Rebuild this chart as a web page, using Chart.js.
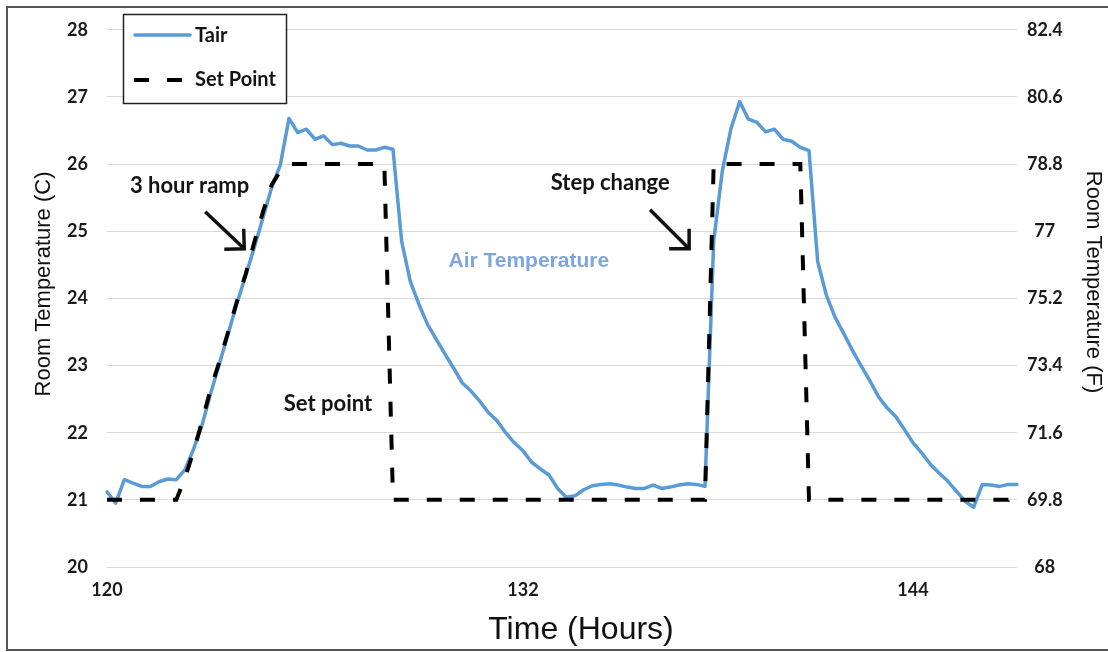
<!DOCTYPE html>
<html>
<head>
<meta charset="utf-8">
<title>Room Temperature</title>
<script src="https://cdn.jsdelivr.net/npm/chart.js@4.4.1/dist/chart.umd.min.js"></script>
<style>
  html, body { margin: 0; padding: 0; background: #fff; }
  #wrap { width: 1108px; height: 652px; }
</style>
</head>
<body>
<div id="wrap"><canvas id="tempChart" width="1108" height="652"></canvas></div>
<script>
// ===== DATA (15 min samples, hour 120 onward) =====
const tair = [
    21.12, 20.95, 21.30, 21.25, 21.20, 21.20, 21.27, 21.31, 21.30, 21.45,
    21.76, 22.13, 22.60, 23.04, 23.48, 23.93, 24.34, 24.76, 25.20, 25.65,
    25.99, 26.68, 26.47, 26.52, 26.37, 26.42, 26.29, 26.31, 26.27, 26.27,
    26.21, 26.21, 26.25, 26.22, 24.85, 24.25, 23.91, 23.61, 23.39, 23.17,
    22.96, 22.74, 22.62, 22.47, 22.30, 22.18, 22.00, 21.85, 21.73, 21.56,
    21.46, 21.37, 21.17, 21.04, 21.06, 21.15, 21.21, 21.23, 21.24, 21.22,
    21.19, 21.17, 21.17, 21.22, 21.17, 21.19, 21.22, 21.24, 21.23, 21.20,
    24.85, 25.90, 26.53, 26.93, 26.67, 26.62, 26.48, 26.52, 26.37, 26.34,
    26.25, 26.20, 24.55, 24.05, 23.72, 23.48, 23.23, 23.00, 22.78, 22.54,
    22.37, 22.24, 22.05, 21.85, 21.70, 21.53, 21.40, 21.28, 21.13, 20.98,
    20.89, 21.23, 21.22, 21.20, 21.23, 21.23
];

const setPoint = [
    21, 21, 21, 21, 21, 21, 21, 21, 21, 21.33,
    21.73, 22.18, 22.67, 23.07, 23.51, 23.96, 24.36, 24.84, 25.29, 25.69,
    25.90, 26, 26, 26, 26, 26, 26, 26, 26, 26,
    26, 26, 26, 21, 21, 21, 21, 21, 21, 21,
    21, 21, 21, 21, 21, 21, 21, 21, 21, 21,
    21, 21, 21, 21, 21, 21, 21, 21, 21, 21,
    21, 21, 21, 21, 21, 21, 21, 21, 21, 21,
    26, 26, 26, 26, 26, 26, 26, 26, 26, 26,
    26, 21, 21, 21, 21, 21, 21, 21, 21, 21,
    21, 21, 21, 21, 21, 21, 21, 21, 21, 21,
    21, 21, 21, 21, 21, 21.2
];

const samples = tair.map((_, i) => i);

// hour labels shown on the time axis, keyed by sample index
const hourLabels = ['120', '132', '144'];
const hourLabelIndex = [0, 48, 93];

const celsiusTicks = [20, 21, 22, 23, 24, 25, 26, 27, 28];
const fahrenheitTicks = [68, 69.8, 71.6, 73.4, 75.2, 77, 78.8, 80.6, 82.4];

// text notes placed in (sample, °C) coordinates
const notes = [
    { text: '3 hour ramp', x: 2.65, y: 25.67, color: '#141414' },
    { text: 'Set point', x: 20.4, y: 22.43, color: '#141414' },
    { text: 'Step change', x: 51.2, y: 25.72, color: '#141414' },
    { text: 'Air Temperature', x: 39.4, y: 24.55, color: '#7ea6dc', font: 'bold 21px "Liberation Sans", Arial, sans-serif' }
];
const arrows = [
    { from: [11.33, 25.29], to: [15.84, 24.74] },
    { from: [62.66, 25.32], to: [67.17, 24.74] }
];

const BLUE = '#5b9bd5';
const DASH = [15, 18];
const NOTE_FONT = 'bold 22px Lato, "Open Sans", sans-serif';
const LEGEND_FONT = 'bold 20px Lato, "Open Sans", sans-serif';
const TICK_FONT = { family: 'Lato, "Open Sans", sans-serif', size: 18, weight: 'bold' };
const AXIS_TITLE_FONT = '22px "Liberation Sans", Arial, sans-serif';
const TIME_TITLE_FONT = '32px "Liberation Sans", Arial, sans-serif';

// ===== FRAME, TITLES, LEGEND, NOTES =====
const decorations = {
    id: 'decorations',
    beforeDraw(chart) {
        const ctx = chart.ctx;
        ctx.save();
        ctx.fillStyle = '#ffffff';
        ctx.fillRect(0, 0, chart.width, chart.height);
        // frame on left, top and bottom
        ctx.strokeStyle = '#555555';
        ctx.lineWidth = 2;
        ctx.beginPath();
        ctx.moveTo(chart.width, 7);
        ctx.lineTo(7, 7);
        ctx.lineTo(7, chart.height - 2);
        ctx.lineTo(chart.width, chart.height - 2);
        ctx.stroke();
        ctx.restore();
    },
    afterDraw(chart) {
        const ctx = chart.ctx;
        const xs = chart.scales.x;
        const ys = chart.scales.y;
        const ds = chart.data.datasets;
        ctx.save();

        // axis titles
        ctx.fillStyle = '#111111';
        ctx.textAlign = 'center';
        ctx.textBaseline = 'middle';
        ctx.font = TIME_TITLE_FONT;
        ctx.fillText('Time (Hours)', 581, 630);
        ctx.font = AXIS_TITLE_FONT;
        ctx.save();
        ctx.translate(44, 284);
        ctx.rotate(-Math.PI / 2);
        ctx.fillText('Room Temperature (C)', 0, 0);
        ctx.restore();
        ctx.save();
        ctx.translate(1093, 282);
        ctx.rotate(Math.PI / 2);
        ctx.fillText('Room Temperature (F)', 0, 0);
        ctx.restore();

        // legend box
        ctx.fillStyle = '#ffffff';
        ctx.fillRect(123, 14, 163, 89);
        ctx.strokeStyle = '#222222';
        ctx.lineWidth = 1.5;
        ctx.strokeRect(123.5, 14.5, 163, 89);

        ctx.font = LEGEND_FONT;
        ctx.textBaseline = 'middle';
        ctx.textAlign = 'left';

        ctx.strokeStyle = ds[0].borderColor;
        ctx.lineWidth = ds[0].borderWidth;
        ctx.lineCap = 'round';
        ctx.beginPath();
        ctx.moveTo(135, 35);
        ctx.lineTo(190, 35);
        ctx.stroke();
        ctx.fillStyle = '#141414';
        ctx.fillText(ds[0].label, 195, 36);

        ctx.strokeStyle = ds[1].borderColor;
        ctx.lineWidth = ds[1].borderWidth;
        ctx.lineCap = 'butt';
        ctx.setLineDash(ds[1].borderDash);
        ctx.beginPath();
        ctx.moveTo(134, 80);
        ctx.lineTo(186, 80);
        ctx.stroke();
        ctx.setLineDash([]);
        ctx.fillText(ds[1].label, 195, 80);

        // annotations
        notes.forEach(n => {
            ctx.font = n.font || NOTE_FONT;
            ctx.fillStyle = n.color;
            ctx.fillText(n.text, xs.getPixelForValue(n.x), ys.getPixelForValue(n.y));
        });

        ctx.strokeStyle = '#111111';
        ctx.lineWidth = 3.5;
        ctx.lineCap = 'butt';
        ctx.lineJoin = 'miter';
        arrows.forEach(a => {
            const x0 = xs.getPixelForValue(a.from[0]), y0 = ys.getPixelForValue(a.from[1]);
            const x1 = xs.getPixelForValue(a.to[0]), y1 = ys.getPixelForValue(a.to[1]);
            const ang = Math.atan2(y1 - y0, x1 - x0);
            const head = 20;
            ctx.beginPath();
            ctx.moveTo(x0, y0);
            ctx.lineTo(x1, y1);
            ctx.stroke();
            ctx.beginPath();
            ctx.moveTo(x1 - head * Math.cos(ang - Math.PI / 4), y1 - head * Math.sin(ang - Math.PI / 4));
            ctx.lineTo(x1, y1);
            ctx.lineTo(x1 - head * Math.cos(ang + Math.PI / 4), y1 - head * Math.sin(ang + Math.PI / 4));
            ctx.stroke();
        });

        ctx.restore();
    }
};

// ===== CHART =====
const ctx = document.getElementById('tempChart').getContext('2d');
const chart = new Chart(ctx, {
    type: 'line',
    data: {
        labels: samples,
        datasets: [
            {
                label: 'Tair',
                data: tair,
                borderColor: BLUE,
                borderWidth: 3.5,
                borderJoinStyle: 'round',
                borderCapStyle: 'round',
                pointRadius: 0,
                tension: 0,
                yAxisID: 'y',
                order: 2
            },
            {
                label: 'Set Point',
                data: setPoint,
                borderColor: '#000000',
                borderWidth: 4,
                borderDash: DASH,
                borderCapStyle: 'butt',
                pointRadius: 0,
                tension: 0,
                yAxisID: 'y',
                order: 1
            }
        ]
    },
    options: {
        responsive: false,
        animation: false,
        devicePixelRatio: 1,
        layout: { padding: { top: 27, left: 0, right: 0, bottom: 0 } },
        plugins: {
            legend: { display: false },
            tooltip: { enabled: false }
        },
        scales: {
            x: {
                type: 'category',
                offset: false,
                grid: { display: false, drawTicks: false },
                border: { display: false },
                ticks: {
                    autoSkip: false,
                    maxRotation: 0,
                    padding: 12,
                    color: '#1a1a1a',
                    font: TICK_FONT,
                    callback: (value, index) => {
                        const k = hourLabelIndex.indexOf(index);
                        return k >= 0 ? hourLabels[k] : '';
                    }
                },
                afterFit: s => { s.height = 85; }
            },
            y: {
                position: 'left',
                min: 20,
                max: 28,
                grid: { color: '#d9d9d9', lineWidth: 1, drawTicks: false },
                border: { display: false },
                afterBuildTicks: s => { s.ticks = celsiusTicks.map(v => ({ value: v })); },
                ticks: { padding: 19, color: '#1a1a1a', font: TICK_FONT },
                afterFit: s => { s.width = 107; }
            },
            y2: {
                position: 'right',
                min: 68,
                max: 82.4,
                grid: { display: false, drawTicks: false },
                border: { display: false },
                afterBuildTicks: s => { s.ticks = fahrenheitTicks.map(v => ({ value: v })); },
                ticks: {
                    padding: 10,
                    crossAlign: 'center',
                    color: '#1a1a1a',
                    font: TICK_FONT,
                    callback: v => String(v)
                },
                afterFit: s => { s.width = 91; }
            }
        }
    },
    plugins: [decorations]
});
</script>
</body>
</html>
